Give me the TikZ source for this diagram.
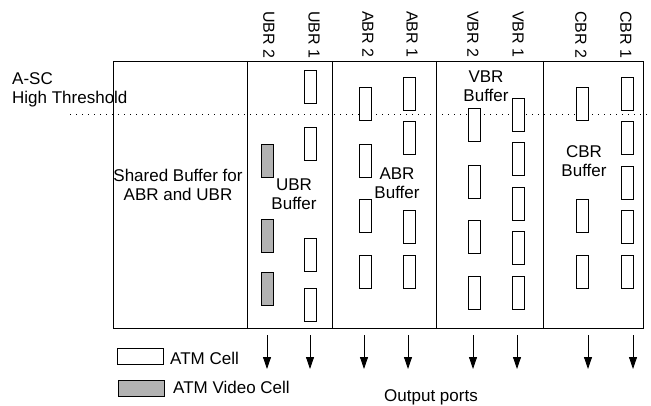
\documentclass[tikz,border=0pt]{standalone}
\usepackage{fontspec}
\setmainfont{Liberation Sans}
\usetikzlibrary{arrows.meta}
\begin{document}
\begin{tikzpicture}[x=1pt,y=-1pt,
  every node/.style={font=\fontsize{17}{19.5}\selectfont, inner sep=0pt},
  frame/.style={draw, line width=0.9pt},
  cellbox/.style={draw, line width=0.9pt, fill=white, minimum width=12pt, minimum height=33pt, anchor=north},
  videocell/.style={cellbox, fill=black!30},
  portlabel/.style={rotate=-90, anchor=west, font=\fontsize{16}{19}\selectfont},
  portarrow/.style={draw, line width=0.8pt, -{Triangle[width=8pt,length=12pt]}},
  threshold/.style={draw, line width=0.8pt, dash pattern=on 1pt off 5pt}
]
\useasboundingbox (0,0) rectangle (651,406);

% outer buffer frame and class partitions
\draw[frame] (113,61) rectangle (643,328);
\foreach \x in {247,332,436,543} \draw[frame] (\x,61) -- (\x,328);

% A-SC high threshold
\coordinate (thL) at (70,114);
\coordinate (thR) at (651,114);
\draw[threshold] (thL) -- (thR);
\node[anchor=base west, align=left] (asc) at (12,104) {A-SC\\High Threshold};

% buffer names (anchor base = baseline of the last line)
\node[anchor=base, align=center] (shared) at (178,201) {Shared Buffer for\\ABR and UBR};
\node[anchor=base, align=center] (ubrbuf) at (294,210) {UBR\\Buffer};
\node[anchor=base, align=center] (abrbuf) at (397,199) {ABR\\Buffer};
\node[anchor=base, align=center] (vbrbuf) at (486,102) {VBR\\Buffer};
\node[anchor=base, align=center] (cbrbuf) at (584,177) {CBR\\Buffer};

% port labels
\foreach \x/\t [count=\i] in {269/UBR 2,314/UBR 1,368/ABR 2,412/ABR 1,473/VBR 2,518/VBR 1,581/CBR 2,626/CBR 1}
  \node[portlabel] (lab\i) at (\x,11) {\t};

% queued cells
\foreach \y [count=\i] in {70,127,238,288} \node[cellbox] (ubra\i) at (310.5,\y) {};
\foreach \y [count=\i] in {144,219,272} \node[videocell] (ubrb\i) at (267.5,\y) {};
\foreach \y [count=\i] in {87,144,199,255} \node[cellbox] (abrb\i) at (365,\y) {};
\foreach \y [count=\i] in {77,121,210,255} \node[cellbox] (abra\i) at (409.5,\y) {};
\foreach \y [count=\i] in {108,165,220,276} \node[cellbox] (vbrb\i) at (474,\y) {};
\foreach \y [count=\i] in {98,142,187,231,276} \node[cellbox] (vbra\i) at (518.5,\y) {};
\foreach \y [count=\i] in {87,199,255} \node[cellbox] (cbrb\i) at (582,\y) {};
\foreach \y [count=\i] in {77,121,166,210,255} \node[cellbox] (cbra\i) at (627,\y) {};

% output ports
\foreach \x [count=\i] in {267,310,364,408,473,517,588,633} {
  \coordinate (pa\i) at (\x,335);
  \coordinate (pb\i) at (\x,369);
  \draw[portarrow] (pa\i) -- (pb\i);
}
\node[anchor=base] (ports) at (431,401) {Output ports};

% legend
\node[cellbox, minimum width=46pt, minimum height=16pt, anchor=north west] (legcell) at (117,348) {};
\node[anchor=base west] (legcelltxt) at (170,364) {ATM Cell};
\node[videocell, minimum width=46pt, minimum height=16pt, anchor=north west] (legvideo) at (118,380) {};
\node[anchor=base west] (legvideotxt) at (173,393) {ATM Video Cell};
\end{tikzpicture}
\end{document}
